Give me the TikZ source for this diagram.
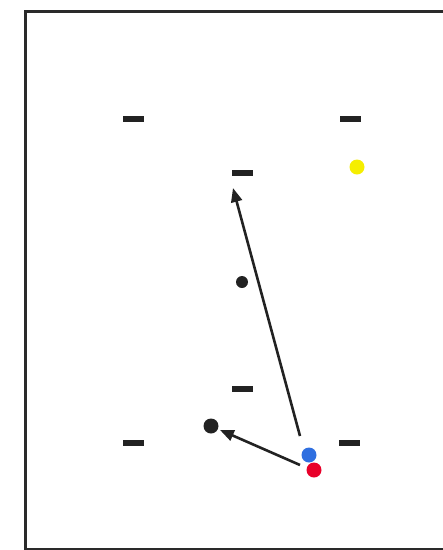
\documentclass[tikz,border=0pt]{standalone}
\usetikzlibrary{arrows.meta}
\definecolor{dashcol}{HTML}{222222}
\definecolor{framecol}{HTML}{2A2A2A}
\definecolor{bluedot}{HTML}{2F6FE0}
\definecolor{reddot}{HTML}{E8002A}
\definecolor{yellowdot}{HTML}{F5EE00}
\begin{document}
\begin{tikzpicture}[x=1pt,y=-1pt,
  cone/.style={rectangle,fill=dashcol,inner sep=0pt,minimum width=21pt,minimum height=6.5pt},
  dot/.style={circle,inner sep=0pt,minimum size=#1},
  pass/.style={draw=dashcol,line width=2.6pt,-{Triangle[length=14pt,width=11pt]}}]
\useasboundingbox (0,0) rectangle (443,550);
\draw[framecol,line width=3pt] (443,11) -- (25,11) -- (25,549) -- (443,549);
\node[cone] (c1) at (133,119) {};
\node[cone] (c2) at (350,119) {};
\node[cone] (c3) at (242,173) {};
\node[cone] (c4) at (242,389) {};
\node[cone] (c5) at (133,443) {};
\node[cone] (c6) at (349,443) {};
\node[dot=15pt,fill=yellowdot] (y) at (357,167) {};
\node[dot=12pt,fill=dashcol] (k1) at (242,282) {};
\node[dot=15pt,fill=dashcol] (k2) at (211,426) {};
\node[dot=15pt,fill=bluedot] (b) at (309,455) {};
\node[dot=15pt,fill=reddot] (r) at (314,470) {};
\coordinate (s1) at (300,436);
\coordinate (e1) at (233,188);
\coordinate (s2) at (300,465);
\draw[pass] (s1) -- (e1);
\draw[pass,shorten >=2pt] (s2) -- (k2);
\end{tikzpicture}
\end{document}
